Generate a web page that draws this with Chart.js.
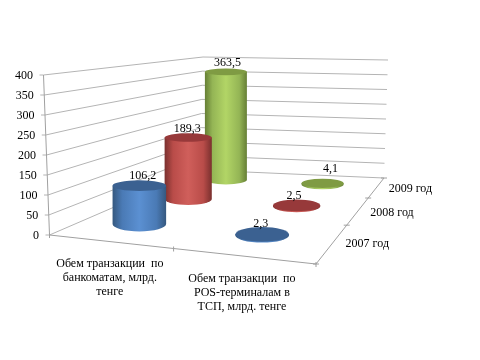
<!DOCTYPE html>
<html>
<head>
<meta charset="utf-8">
<style>
  html, body { margin: 0; padding: 0; background: #fff; }
  canvas { display: block; }
</style>
<script src="https://cdn.jsdelivr.net/npm/chart.js@4/dist/chart.umd.min.js"></script>
</head>
<body>
<canvas id="chart" width="480" height="360"></canvas>
<script>
// Data
const categories = [
    ['Обем транзакции  по', 'банкоматам, млрд.', 'тенге'],
    ['Обем транзакции  по', 'POS-терминалам в', 'ТСП, млрд. тенге']
];
const years = ['2007 год', '2008 год', '2009 год'];
const values2007 = [106.2, 2.3];
const values2008 = [189.3, 2.5];
const values2009 = [363.5, 4.1];
const yTicks = [0, 50, 100, 150, 200, 250, 300, 350, 400];

// Colours per year: edge, mid, highlight, top cap
const palette = [
    ['#35587f', '#4a7ab5', '#5b90d2', '#3b6191'],
    ['#7a302e', '#b94c49', '#d05f5b', '#97393a'],
    ['#667f35', '#94b555', '#b2d566', '#7f9b43']
];

const FONT = '12px "Liberation Serif"';
const PLOT_TOP = 75, PLOT_BOTTOM = 235;

// Fake 3D box: screen corners of the floor and the top of the walls
const floor = { fl: [49.5, 235], fr: [316, 264], br: [384, 178], bl: [200, 170] };
const wallTop = { fl: [43.5, 75], bl: [203, 57], br: [388, 60] };
const catPos = [0.25, 0.75];
const yearPos = [0.175, 1 / 2, 5 / 6];

// value label nudges [dx, dy] per year and category, the original placed them by hand
const labelNudge = [
    [[3.5, -10], [-1.5, -10]],
    [[-1, -9], [-2.5, -9.5]],
    [[1.5, -9], [8, -14.5]]
];

// unit square -> floor quad
const H = (function () {
    const [x0, y0] = floor.fl, [x1, y1] = floor.fr, [x2, y2] = floor.br, [x3, y3] = floor.bl;
    const dx1 = x1 - x2, dy1 = y1 - y2, dx2 = x3 - x2, dy2 = y3 - y2;
    const sx = x0 - x1 + x2 - x3, sy = y0 - y1 + y2 - y3;
    const den = dx1 * dy2 - dx2 * dy1;
    const g = (sx * dy2 - dx2 * sy) / den, h = (dx1 * sy - sx * dy1) / den;
    return { a: x1 - x0 + g * x1, b: x3 - x0 + h * x3, c: x0, d: y1 - y0 + g * y1, e: y3 - y0 + h * y3, f: y0, g, h };
})();

function floorPoint(u, v) {
    const w = H.g * u + H.h * v + 1;
    return { x: (H.a * u + H.b * v + H.c) / w, y: (H.d * u + H.e * v + H.f) / w, w };
}

const toY = px => (PLOT_BOTTOM - px) * 400 / (PLOT_BOTTOM - PLOT_TOP);
const mix = (a, b, t) => [a[0] + (b[0] - a[0]) * t, a[1] + (b[1] - a[1]) * t];

function barPoint(value, i, s) {
    const p = floorPoint(catPos[i], yearPos[s]);
    const height = value * (0.102 + 0.27 / p.w);
    return { x: p.x, y: [toY(p.y), toY(p.y - height)] };
}

function makeDataset(label, values, s) {
    return {
        label,
        values,
        data: values.map((v, i) => barPoint(v, i, s)),
        backgroundColor: palette[s][1],
        clip: false
    };
}

function drawCylinder(ctx, el, s) {
    const colors = palette[s];
    const top = Math.min(el.y, el.base), bottom = Math.max(el.y, el.base);
    const mid = floorPoint(0.5, yearPos[s]);
    const rx = floorPoint(0.607, yearPos[s]).x - mid.x;
    const ry = rx * (0.29 - 0.08 * yearPos[s]);
    const ryTop = ry * (1 - 0.28 * Math.min((bottom - top) / 30, 1));
    const x = el.x;

    const grad = ctx.createLinearGradient(x - rx, 0, x + rx, 0);
    grad.addColorStop(0, colors[0]);
    grad.addColorStop(0.18, colors[1]);
    grad.addColorStop(0.5, colors[2]);
    grad.addColorStop(0.82, colors[1]);
    grad.addColorStop(1, colors[0]);

    ctx.beginPath();
    ctx.ellipse(x, bottom, rx, ry, 0, 0, Math.PI);
    ctx.lineTo(x - rx, top);
    ctx.lineTo(x + rx, top);
    ctx.closePath();
    ctx.fillStyle = grad;
    ctx.fill();

    ctx.beginPath();
    ctx.ellipse(x, top, rx, ryTop, 0, 0, Math.PI * 2);
    ctx.fillStyle = colors[3];
    ctx.fill();
}

function line(ctx, a, b) {
    ctx.beginPath();
    ctx.moveTo(a[0], a[1]);
    ctx.lineTo(b[0], b[1]);
    ctx.stroke();
}

const box3d = {
    id: 'box3d',
    // walls, floor and all axis text
    beforeDatasetsDraw(chart) {
        const ctx = chart.ctx, yScale = chart.scales.y;
        ctx.save();
        ctx.lineWidth = 1;
        ctx.strokeStyle = '#b4b4b4';
        ctx.font = FONT;
        ctx.fillStyle = '#000';

        yScale.ticks.forEach(tick => {
            const t = tick.value / 400;
            const front = mix(floor.fl, wallTop.fl, t);
            front[1] = yScale.getPixelForValue(tick.value);
            const back = mix(floor.bl, wallTop.bl, t);
            const right = mix(floor.br, wallTop.br, t);
            line(ctx, front, back);
            line(ctx, back, right);
            line(ctx, front, [front[0] - 4, front[1]]);
            ctx.textAlign = 'right';
            ctx.textBaseline = 'middle';
            ctx.fillText(String(tick.value), front[0] - 10.5, front[1] + 1);
        });

        ctx.strokeStyle = '#a0a0a0';
        line(ctx, floor.fl, wallTop.fl);
        line(ctx, floor.fl, floor.fr);
        line(ctx, floor.fr, floor.br);

        [0, 0.52, 1].forEach(u => {
            const p = floorPoint(u, 0);
            line(ctx, [p.x, p.y - 2], [p.x, p.y + 3]);
        });
        [0, 1 / 3, 2 / 3, 1].forEach(v => {
            const p = floorPoint(1, v);
            line(ctx, [p.x - 3, p.y], [p.x + 3, p.y]);
        });

        ctx.textAlign = 'center';
        categories.forEach((lines, i) => {
            const p = floorPoint(catPos[i], 0);
            lines.forEach((text, n) => ctx.fillText(text, p.x + 4, p.y + 23 + n * 14));
        });
        ctx.textAlign = 'left';
        years.forEach((text, s) => {
            const p = floorPoint(1, yearPos[s]);
            ctx.fillText(text, p.x + 12, p.y + 2);
        });
        ctx.restore();
    },
    // bars become cylinders
    beforeDatasetDraw(chart, args) {
        const ctx = chart.ctx;
        ctx.save();
        args.meta.data.forEach(el => drawCylinder(ctx, el, args.index));
        ctx.restore();
        return false;
    },
    afterDatasetsDraw(chart) {
        const ctx = chart.ctx;
        ctx.save();
        ctx.font = FONT;
        ctx.fillStyle = '#000';
        ctx.textAlign = 'center';
        ctx.textBaseline = 'middle';
        chart.data.datasets.forEach((ds, s) => {
            chart.getDatasetMeta(s).data.forEach((el, i) => {
                const top = Math.min(el.y, el.base);
                const [dx, dy] = labelNudge[s][i];
                ctx.fillText(ds.values[i].toFixed(1).replace('.', ','), el.x + dx, top + dy);
            });
        });
        ctx.restore();
    }
};

new Chart(document.getElementById('chart'), {
    type: 'bar',
    data: {
        datasets: [
            makeDataset(years[0], values2007, 0),
            makeDataset(years[1], values2008, 1),
            makeDataset(years[2], values2009, 2)
        ]
    },
    options: {
        responsive: false,
        animation: false,
        grouped: false,
        layout: { padding: { top: PLOT_TOP, bottom: 360 - PLOT_BOTTOM, left: 0, right: 0 } },
        plugins: { legend: { display: false }, tooltip: { enabled: false }, title: { display: false } },
        scales: {
            x: { type: 'linear', min: 0, max: 480, offset: false, display: false },
            y: {
                type: 'linear', min: 0, max: 400, display: false,
                afterBuildTicks: scale => { scale.ticks = yTicks.map(value => ({ value })); }
            }
        }
    },
    plugins: [box3d]
});
</script>
</body>
</html>
